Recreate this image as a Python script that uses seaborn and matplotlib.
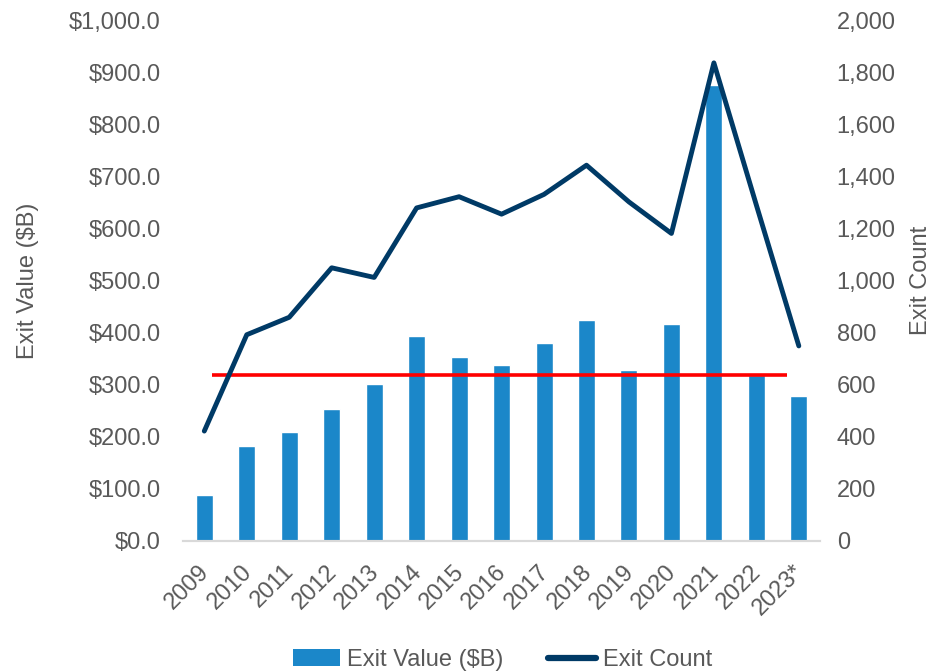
import numpy as np
import pandas as pd
import matplotlib
matplotlib.use("Agg")
import matplotlib.pyplot as plt
import matplotlib.ticker as mticker
import matplotlib.transforms as mtransforms
from matplotlib.lines import Line2D
from matplotlib.patches import Patch
import seaborn as sns

years = ["2009", "2010", "2011", "2012", "2013", "2014", "2015", "2016",
         "2017", "2018", "2019", "2020", "2021", "2022", "2023*"]
exit_value = [88, 183, 209, 253, 301, 393, 354, 337, 381, 425, 328, 416, 875, 318, 278]
exit_count = [422, 792, 859, 1049, 1012, 1279, 1322, 1255, 1331, 1443, 1302, 1181, 1836, 1290, 749]
average_value = 318

df = pd.DataFrame({"Year": years, "Exit Value ($B)": exit_value, "Exit Count": exit_count})

sns.set_theme(style="white")
plt.rcParams["font.family"] = ["Liberation Sans", "DejaVu Sans"]
TXT = "#595959"
BAR = "#1B87C9"
LINE = "#003A66"

fig = plt.figure(figsize=(9.34, 6.72), dpi=100)
ax = fig.add_axes([0.196, 0.195, 0.682, 0.775])

sns.barplot(data=df, x="Year", y="Exit Value ($B)", color=BAR, width=0.4,
            saturation=1, ax=ax)
ax.set_ylim(0, 1000)
ax.set_yticks(np.arange(0, 1001, 100))
ax.yaxis.set_major_formatter(mticker.FuncFormatter(lambda v, p: f"${v:,.1f}"))
ax.set_xlim(-0.5, len(years) - 0.5)
ax.hlines(average_value, 0.18, 13.72, color="#FF0000", lw=2.6, zorder=5)

ax2 = ax.twinx()
sns.lineplot(x=np.arange(len(years)), y=exit_count, color=LINE, lw=3.5,
             ax=ax2, sort=False)
ax2.lines[0].set_solid_capstyle("round")
ax2.lines[0].set_solid_joinstyle("round")
ax2.set_ylim(0, 2000)
ax2.set_yticks(np.arange(0, 2001, 200))
ax2.yaxis.set_major_formatter(mticker.FuncFormatter(lambda v, p: f"{v:,.0f}"))
ax2.set_xlim(-0.5, len(years) - 0.5)

for a in (ax, ax2):
    for s in ["top", "left", "right"]:
        a.spines[s].set_visible(False)
    a.spines["bottom"].set_color("#D9D9D9")
    a.spines["bottom"].set_linewidth(1.5)
    a.tick_params(axis="y", length=0, colors=TXT, labelsize=17)
    a.grid(False)

ax.tick_params(axis="y", pad=16)
ax2.tick_params(axis="y", pad=12)
ax.tick_params(axis="x", length=0, colors=TXT, labelsize=17, pad=14)
shift = mtransforms.ScaledTranslation(-6 / 100, 0, fig.dpi_scale_trans)
for lbl in ax.get_xticklabels():
    lbl.set_rotation(45)
    lbl.set_ha("right")
    lbl.set_rotation_mode("anchor")
    lbl.set_transform(lbl.get_transform() + shift)
ax.set_xlabel("")
ax.set_ylabel("Exit Value ($B)", color=TXT, fontsize=17, labelpad=22)
ax2.set_ylabel("Exit Count", color=TXT, fontsize=17, labelpad=10)

handles = [Patch(facecolor=BAR, edgecolor="none"),
           Line2D([0], [0], color=LINE, lw=4.5)]
fig.legend(handles, ["Exit Value ($B)", "Exit Count"], loc="lower center",
           bbox_to_anchor=(0.538, -0.03), ncol=2, frameon=False, fontsize=17,
           labelcolor=TXT, handlelength=2.0, handletextpad=0.3, columnspacing=1.9)

fig.savefig("out.png", dpi=100)
